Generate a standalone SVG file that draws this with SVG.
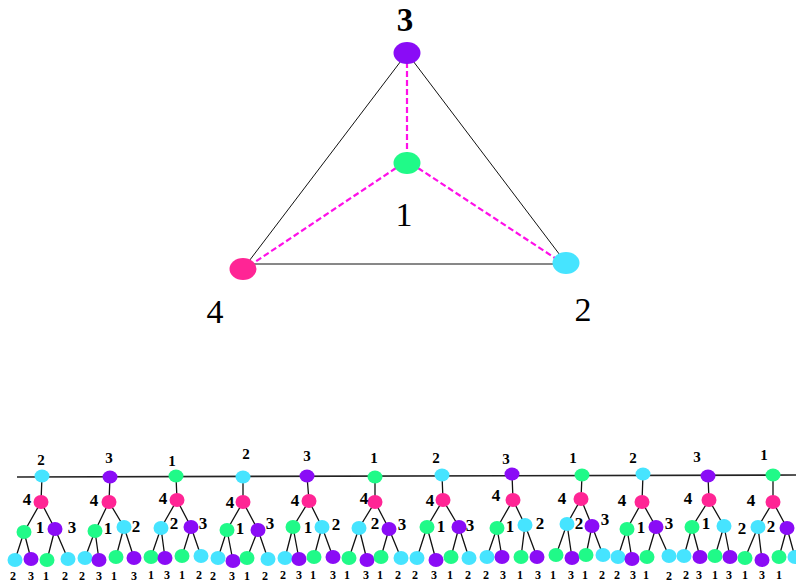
<svg xmlns="http://www.w3.org/2000/svg" width="796" height="586" viewBox="0 0 796 586">
<style>
.bg{fill:#ffffff}
.e{stroke:#111;stroke-width:1.3;fill:none}
.tri{stroke:#111;stroke-width:1;fill:none}
.dash{stroke:#ff10e8;stroke-width:2.2;stroke-dasharray:6 3;fill:none}
.base{stroke:#222;stroke-width:1.6;fill:none}
.c1{fill:#20fa88}
.c2{fill:#46e4ff}
.c3{fill:#8a0cf6}
.c4{fill:#ff2595}
.big{font-family:"Liberation Serif",serif;font-size:34px;fill:#000;text-anchor:middle}
.bigb{font-family:"Liberation Serif",serif;font-weight:bold;font-size:33px;fill:#000;text-anchor:middle}
.lr{font-family:"Liberation Serif",serif;font-weight:bold;font-size:15px;fill:#000;text-anchor:middle}
.lb{font-family:"Liberation Serif",serif;font-weight:bold;font-size:17px;fill:#000;text-anchor:middle}
.ll{font-family:"Liberation Serif",serif;font-weight:bold;font-size:12px;fill:#000;text-anchor:middle}
</style>
<rect class="bg" x="0" y="0" width="796" height="586"/>
<g id="connectors">
<path class="tri" d="M407 53 L243 269 M407 53 L566 263 M250 264 L560 264"/>
<path class="dash" d="M407 62 L407 153 M396 168 L249 266 M418 168 L561 262"/>
<path class="base" d="M17 477 L796 475"/>
<path class="e" d="M42 476L41 502M41 502L24 532M41 502L55 529M24 532L15 560M24 532L31 559M55 529L47 560M55 529L68 559"/>
<path class="e" d="M110 477L109 502M109 502L95 531M109 502L124 527M95 531L85 558M95 531L99 560M124 527L116 557M124 527L134 558"/>
<path class="e" d="M176 476L177 500M177 500L161 528M177 500L191 527M161 528L151 557M161 528L165 558M191 527L182 556M191 527L201 556"/>
<path class="e" d="M243 477L243 502M243 502L227 530M243 502L258 530M227 530L218 558M227 530L233 561M258 530L247 558M258 530L268 559"/>
<path class="e" d="M307 476L309 501M309 501L293 527M309 501L322 527M293 527L285 558M293 527L299 559M322 527L314 557M322 527L333 557"/>
<path class="e" d="M375 477L375 502M375 502L359 528M375 502L389 529M359 528L349 558M359 528L367 560M389 529L381 557M389 529L401 558"/>
<path class="e" d="M442 475L443 500M443 500L427 527M443 500L459 527M427 527L417 558M427 527L436 560M459 527L451 557M459 527L469 558"/>
<path class="e" d="M512 474L513 500M513 500L497 528M513 500L525 525M497 528L487 557M497 528L502 557M525 525L521 557M525 525L537 557"/>
<path class="e" d="M582 475L581 499M581 499L567 524M581 499L592 526M567 524L556 555M567 524L572 558M592 526L586 555M592 526L603 555"/>
<path class="e" d="M643 474L642 502M642 502L627 529M642 502L656 527M627 529L618 557M627 529L632 559M656 527L647 557M656 527L669 556"/>
<path class="e" d="M708 476L709 500M709 500L692 527M709 500L724 526M692 527L684 556M692 527L700 557M724 526L715 556M724 526L730 557"/>
<path class="e" d="M773 475L773 502M773 502L758 527M773 502L787 528M758 527L745 558M758 527L762 560M787 528L779 557M787 528L795 557"/>
</g>
<g id="top-node-3"><ellipse class="c3" cx="407" cy="53" rx="13.5" ry="11"/><text class="bigb" x="405" y="31">3</text></g>
<g id="top-node-1"><ellipse class="c1" cx="407" cy="163" rx="13.5" ry="11"/><text class="big" x="404" y="226">1</text></g>
<g id="top-node-4"><ellipse class="c4" cx="243" cy="269" rx="13.5" ry="11"/><text class="big" x="215" y="323">4</text></g>
<g id="top-node-2"><ellipse class="c2" cx="566" cy="263" rx="13.5" ry="11"/><text class="big" x="583" y="321">2</text></g>

<g id="tree-1">
<ellipse class="c2" cx="42" cy="476" rx="7.5" ry="6.5"/><text class="lr" x="41" y="465">2</text>
<ellipse class="c4" cx="41" cy="502" rx="7.5" ry="7"/><text class="lb" x="27" y="505">4</text>
<ellipse class="c1" cx="24" cy="532" rx="7.5" ry="7"/><text class="lb" x="40" y="533">1</text>
<ellipse class="c3" cx="55" cy="529" rx="7.5" ry="7"/><text class="lb" x="72" y="533">3</text>
<ellipse class="c2" cx="15" cy="560" rx="7.5" ry="7"/><text class="ll" x="13" y="580">2</text>
<ellipse class="c3" cx="31" cy="559" rx="7.5" ry="7"/><text class="ll" x="31" y="580">3</text>
<ellipse class="c1" cx="47" cy="560" rx="7.5" ry="7"/><text class="ll" x="46" y="580">1</text>
<ellipse class="c2" cx="68" cy="559" rx="7.5" ry="7"/><text class="ll" x="65" y="580">2</text>
</g>
<g id="tree-2">
<ellipse class="c3" cx="110" cy="477" rx="7.5" ry="6.5"/><text class="lr" x="109" y="463">3</text>
<ellipse class="c4" cx="109" cy="502" rx="7.5" ry="7"/><text class="lb" x="94" y="506">4</text>
<ellipse class="c1" cx="95" cy="531" rx="7.5" ry="7"/><text class="lb" x="108" y="534">1</text>
<ellipse class="c2" cx="124" cy="527" rx="7.5" ry="7"/><text class="lb" x="136" y="532">2</text>
<ellipse class="c2" cx="85" cy="558" rx="7.5" ry="7"/><text class="ll" x="82" y="580">2</text>
<ellipse class="c3" cx="99" cy="560" rx="7.5" ry="7"/><text class="ll" x="99" y="580">3</text>
<ellipse class="c1" cx="116" cy="557" rx="7.5" ry="7"/><text class="ll" x="114" y="580">1</text>
<ellipse class="c3" cx="134" cy="558" rx="7.5" ry="7"/><text class="ll" x="134" y="580">3</text>
</g>
<g id="tree-3">
<ellipse class="c1" cx="176" cy="476" rx="7.5" ry="6.5"/><text class="lr" x="172" y="466">1</text>
<ellipse class="c4" cx="177" cy="500" rx="7.5" ry="7"/><text class="lb" x="163" y="504">4</text>
<ellipse class="c2" cx="161" cy="528" rx="7.5" ry="7"/><text class="lb" x="174" y="529">2</text>
<ellipse class="c3" cx="191" cy="527" rx="7.5" ry="7"/><text class="lb" x="203" y="529">3</text>
<ellipse class="c1" cx="151" cy="557" rx="7.5" ry="7"/><text class="ll" x="151" y="579">1</text>
<ellipse class="c3" cx="165" cy="558" rx="7.5" ry="7"/><text class="ll" x="167" y="579">3</text>
<ellipse class="c1" cx="182" cy="556" rx="7.5" ry="7"/><text class="ll" x="182" y="579">1</text>
<ellipse class="c2" cx="201" cy="556" rx="7.5" ry="7"/><text class="ll" x="199" y="579">2</text>
</g>
<g id="tree-4">
<ellipse class="c2" cx="243" cy="477" rx="7.5" ry="6.5"/><text class="lr" x="246" y="459">2</text>
<ellipse class="c4" cx="243" cy="502" rx="7.5" ry="7"/><text class="lb" x="230" y="508">4</text>
<ellipse class="c1" cx="227" cy="530" rx="7.5" ry="7"/><text class="lb" x="240" y="534">1</text>
<ellipse class="c3" cx="258" cy="530" rx="7.5" ry="7"/><text class="lb" x="270" y="529">3</text>
<ellipse class="c2" cx="218" cy="558" rx="7.5" ry="7"/><text class="ll" x="213" y="580">2</text>
<ellipse class="c3" cx="233" cy="561" rx="7.5" ry="7"/><text class="ll" x="232" y="580">3</text>
<ellipse class="c1" cx="247" cy="558" rx="7.5" ry="7"/><text class="ll" x="247" y="580">1</text>
<ellipse class="c2" cx="268" cy="559" rx="7.5" ry="7"/><text class="ll" x="265" y="580">2</text>
</g>
<g id="tree-5">
<ellipse class="c3" cx="307" cy="476" rx="7.5" ry="6.5"/><text class="lr" x="307" y="461">3</text>
<ellipse class="c4" cx="309" cy="501" rx="7.5" ry="7"/><text class="lb" x="295" y="506">4</text>
<ellipse class="c1" cx="293" cy="527" rx="7.5" ry="7"/><text class="lb" x="308" y="533">1</text>
<ellipse class="c2" cx="322" cy="527" rx="7.5" ry="7"/><text class="lb" x="336" y="530">2</text>
<ellipse class="c2" cx="285" cy="558" rx="7.5" ry="7"/><text class="ll" x="283" y="579">2</text>
<ellipse class="c3" cx="299" cy="559" rx="7.5" ry="7"/><text class="ll" x="299" y="579">3</text>
<ellipse class="c1" cx="314" cy="557" rx="7.5" ry="7"/><text class="ll" x="313" y="579">1</text>
<ellipse class="c3" cx="333" cy="557" rx="7.5" ry="7"/><text class="ll" x="333" y="579">3</text>
</g>
<g id="tree-6">
<ellipse class="c1" cx="375" cy="477" rx="7.5" ry="6.5"/><text class="lr" x="374" y="463">1</text>
<ellipse class="c4" cx="375" cy="502" rx="7.5" ry="7"/><text class="lb" x="364" y="504">4</text>
<ellipse class="c2" cx="359" cy="528" rx="7.5" ry="7"/><text class="lb" x="375" y="529">2</text>
<ellipse class="c3" cx="389" cy="529" rx="7.5" ry="7"/><text class="lb" x="402" y="530">3</text>
<ellipse class="c1" cx="349" cy="558" rx="7.5" ry="7"/><text class="ll" x="347" y="579">1</text>
<ellipse class="c3" cx="367" cy="560" rx="7.5" ry="7"/><text class="ll" x="366" y="579">3</text>
<ellipse class="c1" cx="381" cy="557" rx="7.5" ry="7"/><text class="ll" x="380" y="579">1</text>
<ellipse class="c2" cx="401" cy="558" rx="7.5" ry="7"/><text class="ll" x="398" y="579">2</text>
</g>
<g id="tree-7">
<ellipse class="c2" cx="442" cy="475" rx="7.5" ry="6.5"/><text class="lr" x="436" y="463">2</text>
<ellipse class="c4" cx="443" cy="500" rx="7.5" ry="7"/><text class="lb" x="430" y="506">4</text>
<ellipse class="c1" cx="427" cy="527" rx="7.5" ry="7"/><text class="lb" x="441" y="532">1</text>
<ellipse class="c3" cx="459" cy="527" rx="7.5" ry="7"/><text class="lb" x="470" y="531">3</text>
<ellipse class="c2" cx="417" cy="558" rx="7.5" ry="7"/><text class="ll" x="415" y="579">2</text>
<ellipse class="c3" cx="436" cy="560" rx="7.5" ry="7"/><text class="ll" x="434" y="579">3</text>
<ellipse class="c1" cx="451" cy="557" rx="7.5" ry="7"/><text class="ll" x="450" y="579">1</text>
<ellipse class="c2" cx="469" cy="558" rx="7.5" ry="7"/><text class="ll" x="468" y="579">2</text>
</g>
<g id="tree-8">
<ellipse class="c3" cx="512" cy="474" rx="7.5" ry="6.5"/><text class="lr" x="506" y="464">3</text>
<ellipse class="c4" cx="513" cy="500" rx="7.5" ry="7"/><text class="lb" x="496" y="501">4</text>
<ellipse class="c1" cx="497" cy="528" rx="7.5" ry="7"/><text class="lb" x="510" y="532">1</text>
<ellipse class="c2" cx="525" cy="525" rx="7.5" ry="7"/><text class="lb" x="540" y="529">2</text>
<ellipse class="c2" cx="487" cy="557" rx="7.5" ry="7"/><text class="ll" x="486" y="579">2</text>
<ellipse class="c3" cx="502" cy="557" rx="7.5" ry="7"/><text class="ll" x="503" y="579">3</text>
<ellipse class="c1" cx="521" cy="557" rx="7.5" ry="7"/><text class="ll" x="520" y="579">1</text>
<ellipse class="c3" cx="537" cy="557" rx="7.5" ry="7"/><text class="ll" x="538" y="579">3</text>
</g>
<g id="tree-9">
<ellipse class="c1" cx="582" cy="475" rx="7.5" ry="6.5"/><text class="lr" x="573" y="463">1</text>
<ellipse class="c4" cx="581" cy="499" rx="7.5" ry="7"/><text class="lb" x="562" y="504">4</text>
<ellipse class="c2" cx="567" cy="524" rx="7.5" ry="7"/><text class="lb" x="579" y="529">2</text>
<ellipse class="c3" cx="592" cy="526" rx="7.5" ry="7"/><text class="lb" x="605" y="525">3</text>
<ellipse class="c1" cx="556" cy="555" rx="7.5" ry="7"/><text class="ll" x="553" y="579">1</text>
<ellipse class="c3" cx="572" cy="558" rx="7.5" ry="7"/><text class="ll" x="571" y="579">3</text>
<ellipse class="c1" cx="586" cy="555" rx="7.5" ry="7"/><text class="ll" x="585" y="579">1</text>
<ellipse class="c2" cx="603" cy="555" rx="7.5" ry="7"/><text class="ll" x="602" y="579">2</text>
</g>
<g id="tree-10">
<ellipse class="c2" cx="643" cy="474" rx="7.5" ry="6.5"/><text class="lr" x="633" y="463">2</text>
<ellipse class="c4" cx="642" cy="502" rx="7.5" ry="7"/><text class="lb" x="622" y="506">4</text>
<ellipse class="c1" cx="627" cy="529" rx="7.5" ry="7"/><text class="lb" x="641" y="533">1</text>
<ellipse class="c3" cx="656" cy="527" rx="7.5" ry="7"/><text class="lb" x="669" y="529">3</text>
<ellipse class="c2" cx="618" cy="557" rx="7.5" ry="7"/><text class="ll" x="617" y="579">2</text>
<ellipse class="c3" cx="632" cy="559" rx="7.5" ry="7"/><text class="ll" x="633" y="579">3</text>
<ellipse class="c1" cx="647" cy="557" rx="7.5" ry="7"/><text class="ll" x="646" y="579">1</text>
<ellipse class="c2" cx="669" cy="556" rx="7.5" ry="7"/><text class="ll" x="669" y="580">2</text>
</g>
<g id="tree-11">
<ellipse class="c3" cx="708" cy="476" rx="7.5" ry="6.5"/><text class="lr" x="697" y="462">3</text>
<ellipse class="c4" cx="709" cy="500" rx="7.5" ry="7"/><text class="lb" x="688" y="504">4</text>
<ellipse class="c1" cx="692" cy="527" rx="7.5" ry="7"/><text class="lb" x="706" y="529">1</text>
<ellipse class="c2" cx="724" cy="526" rx="7.5" ry="7"/><text class="lb" x="742" y="534">2</text>
<ellipse class="c2" cx="684" cy="556" rx="7.5" ry="7"/><text class="ll" x="686" y="579">2</text>
<ellipse class="c3" cx="700" cy="557" rx="7.5" ry="7"/><text class="ll" x="699" y="579">3</text>
<ellipse class="c1" cx="715" cy="556" rx="7.5" ry="7"/><text class="ll" x="715" y="579">1</text>
<ellipse class="c3" cx="730" cy="557" rx="7.5" ry="7"/><text class="ll" x="729" y="579">3</text>
</g>
<g id="tree-12">
<ellipse class="c1" cx="773" cy="475" rx="7.5" ry="6.5"/><text class="lr" x="764" y="460">1</text>
<ellipse class="c4" cx="773" cy="502" rx="7.5" ry="7"/><text class="lb" x="751" y="506">4</text>
<ellipse class="c2" cx="758" cy="527" rx="7.5" ry="7"/><text class="lb" x="771" y="532">2</text>
<ellipse class="c3" cx="787" cy="528" rx="7.5" ry="7"/>
<ellipse class="c1" cx="745" cy="558" rx="7.5" ry="7"/><text class="ll" x="745" y="579">1</text>
<ellipse class="c3" cx="762" cy="560" rx="7.5" ry="7"/><text class="ll" x="762" y="579">3</text>
<ellipse class="c1" cx="779" cy="557" rx="7.5" ry="7"/><text class="ll" x="779" y="579">1</text>
<ellipse class="c2" cx="795" cy="557" rx="7.5" ry="7"/>
</g>
</svg>
